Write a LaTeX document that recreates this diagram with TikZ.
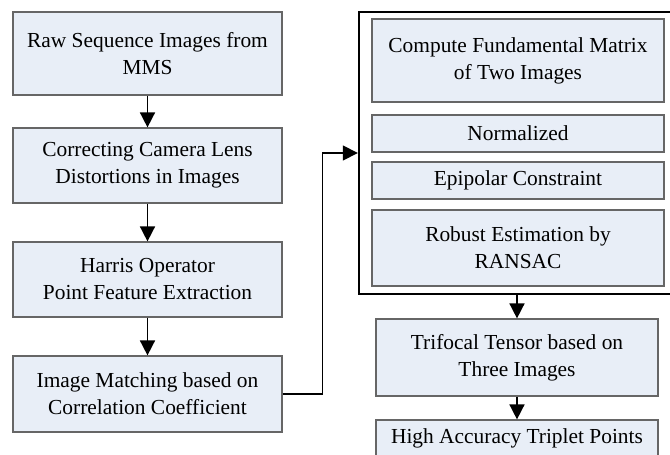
\documentclass[tikz,border=0pt]{standalone}
\usepackage{fontspec}
\setmainfont{Liberation Serif}
\usetikzlibrary{arrows.meta}

\begin{document}
\begin{tikzpicture}[x=1pt, y=-1pt,
    box/.style={draw=black!60, line width=1.2pt, fill={rgb,255:red,232;green,238;blue,247},
                inner sep=0pt, align=center, font=\fontsize{21.4}{27}\selectfont},
    arr/.style={line width=1.6pt, -{Triangle[length=15pt, width=15pt]}}]
    \useasboundingbox (0,0) rectangle (670,455);

    % left column
    \node[box, minimum width=269pt, minimum height=83pt] (raw) at (147.5,53.5) {Raw Sequence Images from\\MMS};
    \node[box, minimum width=269pt, minimum height=75pt] (lens) at (147.5,165.5) {Correcting Camera Lens\\Distortions in Images};
    \node[box, minimum width=269pt, minimum height=75pt] (harris) at (147.5,279.5) {Harris Operator\\Point Feature Extraction};
    \node[box, minimum width=269pt, minimum height=76pt] (match) at (147.5,394) {Image Matching based on\\Correlation Coefficient};

    \draw[arr] (raw) -- (lens);
    \draw[arr] (lens) -- (harris);
    \draw[arr] (harris) -- (match);

    % right column
    \node[draw, line width=2.4pt, minimum width=316pt, minimum height=282pt, inner sep=0pt] (frame) at (517,153) {};
    \node[box, minimum width=292pt, minimum height=83pt] (fund) at (518,60.5) {Compute Fundamental Matrix\\of Two Images};
    \node[box, minimum width=292pt, minimum height=37pt] (norm) at (518,133.5) {Normalized};
    \node[box, minimum width=292pt, minimum height=37pt] (epi) at (518,180.5) {Epipolar Constraint};
    \node[box, minimum width=292pt, minimum height=76pt] (ransac) at (518,248) {Robust Estimation by\\RANSAC};
    \node[box, minimum width=282pt, minimum height=77pt] (tri) at (517,357.5) {Trifocal Tensor based on\\Three Images};
    \node[box, minimum width=282pt, minimum height=37pt] (high) at (517,438.5) {High Accuracy Triplet Points};

    \draw[arr] (match.east) -- ++(40,0) |- (frame.west);
    \draw[arr] (tri.north |- frame.south) -- (tri.north);
    \draw[arr] (tri) -- (high);
\end{tikzpicture}
\end{document}
